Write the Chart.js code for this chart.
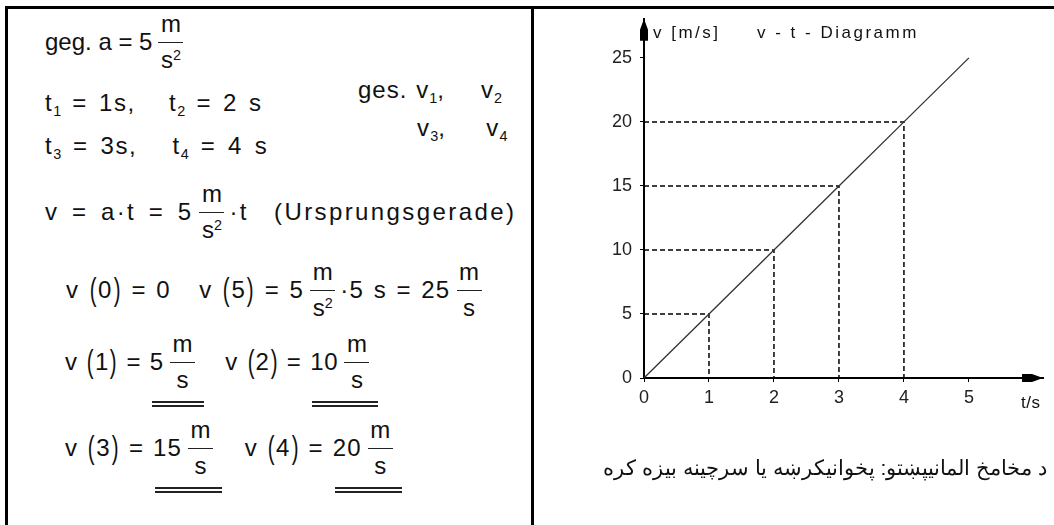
<!DOCTYPE html>
<html>
<head>
<meta charset="utf-8">
<title>v - t - Diagramm</title>
<script src="https://cdn.jsdelivr.net/npm/chart.js@4.4.1/dist/chart.umd.min.js"></script>
<style>
  html, body { margin: 0; padding: 0; background: #fff; }
  body { width: 1054px; height: 525px; position: relative; overflow: hidden;
         font-family: "Liberation Sans", Arial, sans-serif; color: #111; }
  .frame { position: absolute; left: 5px; top: 6px; right: 0; bottom: -10px;
           border-top: 3px solid #000; border-left: 3px solid #000; }
  .divider { position: absolute; left: 531px; top: 6px; width: 3px; bottom: 0; background: #000; }
  .row { position: absolute; white-space: pre; font-size: 24px; line-height: 26px; }
  .row sub { font-size: 0.6em; vertical-align: -0.35em; line-height: 0; letter-spacing: 0; }
  .p { display: inline-block; transform: scale(0.85, 1.3); }
  .fr { display: inline-block; position: relative; width: 25px; height: 0; margin: 0 5px 0 6px; }
  .fr::before { content: ''; position: absolute; left: 0; right: 0; bottom: 7px; border-top: 1px solid #222; }
  .fr .n, .fr .d { position: absolute; left: -6px; right: -6px; text-align: center; line-height: 22px;
                   letter-spacing: 0; word-spacing: 0; }
  .fr .n { bottom: 15px; }
  .fr .d { top: -1px; }
  .fr .d sup { font-size: 0.6em; vertical-align: 0.55em; line-height: 0; }
  .uu { display: inline-block; position: relative; }
  .uu::after { content: ''; position: absolute; left: 2px; right: -4px; top: 52px; height: 2px;
               border-top: 2px solid #222; border-bottom: 2px solid #222; }
  .lbl { position: absolute; white-space: pre; font-size: 17px; line-height: 20px; letter-spacing: 2.5px; }
  .caption { position: absolute; right: 7px; top: 456px; direction: rtl; font-size: 21px; line-height: 24px; }
  #wrap { position: absolute; left: 0; top: 0; width: 1054px; height: 525px; }
</style>
</head>
<body>
<div class="frame"></div>
<div class="divider"></div>

<div class="row" style="left:45px; top:29px">geg. a = 5<span class="fr"><span class="n">m</span><span class="d">s<sup>2</sup></span></span></div>
<div class="row" style="left:358px; top:77px; letter-spacing:1px; word-spacing:1.3px">ges. v<sub>1</sub>,    v<sub>2</sub></div>
<div class="row" style="left:45px; top:90px; letter-spacing:1.5px; word-spacing:3px">t<sub>1</sub> = 1s,   t<sub>2</sub> = 2 s</div>
<div class="row" style="left:417px; top:115px; letter-spacing:1.2px; word-spacing:2.2px">v<sub>3</sub>,    v<sub>4</sub></div>
<div class="row" style="left:45px; top:133px; letter-spacing:1.6px; word-spacing:3.5px">t<sub>3</sub> = 3s,   t<sub>4</sub> = 4 s</div>
<div class="row" style="left:45px; top:199px; letter-spacing:2.4px; word-spacing:3.5px">v = a·t = 5<span class="fr"><span class="n">m</span><span class="d">s<sup>2</sup></span></span>·t  (Ursprungsgerade)</div>
<div class="row" style="left:66px; top:277px; letter-spacing:1.3px; word-spacing:1.5px">v <span class="p">(</span>0<span class="p">)</span> = 0   v <span class="p">(</span>5<span class="p">)</span> = 5<span class="fr"><span class="n">m</span><span class="d">s<sup>2</sup></span></span>·5 s = 25<span class="fr"><span class="n">m</span><span class="d">s</span></span></div>
<div class="row" style="left:65px; top:349px; letter-spacing:0.8px; word-spacing:1px">v <span class="p">(</span>1<span class="p">)</span> = <span class="uu">5<span class="fr"><span class="n">m</span><span class="d">s</span></span></span>   v <span class="p">(</span>2<span class="p">)</span> = <span class="uu">10<span class="fr"><span class="n">m</span><span class="d">s</span></span></span></div>
<div class="row" style="left:65px; top:435px; letter-spacing:1.2px; word-spacing:1px">v <span class="p">(</span>3<span class="p">)</span> = <span class="uu">15<span class="fr"><span class="n">m</span><span class="d">s</span></span></span>   v <span class="p">(</span>4<span class="p">)</span> = <span class="uu">20<span class="fr"><span class="n">m</span><span class="d">s</span></span></span></div>

<div id="wrap"><canvas id="chart"></canvas></div>

<div class="lbl" style="left:653px; top:23px">v [m/s]</div>
<div class="lbl" style="left:757px; top:23px">v - t - Diagramm</div>
<div class="lbl" style="left:1021px; top:393px; letter-spacing:0.5px">t/s</div>
<div class="caption">د مخامخ المانيپښتو: پخوانیکرښه یا سرچینه بیزه کره</div>

<script>
// v-t diagram data: v = a * t with a = 5 m/s^2
const tValues = [0, 1, 2, 3, 4, 5]
const vValues = [0, 5, 10, 15, 20, 25]
// dashed read-off lines
const guideT = [1, 2, 3, 4]
const guideV = [5, 10, 15, 20]
// axis ticks
const xTicks = [0, 1, 2, 3, 4, 5]
const yTicks = [0, 5, 10, 15, 20, 25]

const mainLine = tValues.map((t, i) => ({ x: t, y: vValues[i] }))

const guideSets = guideT.map((t, i) => ({
    data: [{ x: 0, y: guideV[i] }, { x: t, y: guideV[i] }, { x: t, y: 0 }],
    borderColor: '#000',
    borderWidth: 1.5,
    borderDash: [5, 3],
    pointRadius: 0,
    tension: 0,
}))

const axisArrows = {
    id: 'axisArrows',
    afterDraw(chart) {
        const { ctx, chartArea: a } = chart
        ctx.save()
        ctx.fillStyle = '#000'
        // arrow at the end of the t axis
        ctx.beginPath()
        ctx.moveTo(a.right - 21, a.bottom - 4)
        ctx.lineTo(a.right - 11, a.bottom - 4)
        ctx.lineTo(a.right, a.bottom)
        ctx.lineTo(a.right - 11, a.bottom + 4)
        ctx.lineTo(a.right - 21, a.bottom + 4)
        ctx.closePath()
        ctx.fill()
        // arrow at the top of the v axis
        ctx.beginPath()
        ctx.moveTo(a.left, a.top)
        ctx.lineTo(a.left + 4, a.top + 11)
        ctx.lineTo(a.left + 4, a.top + 22)
        ctx.lineTo(a.left - 4, a.top + 22)
        ctx.lineTo(a.left - 4, a.top + 11)
        ctx.closePath()
        ctx.fill()
        ctx.restore()
    }
}

const tickFont = { family: '"Liberation Sans", Arial, sans-serif', size: 18 }

new Chart(document.getElementById('chart'), {
    type: 'line',
    data: {
        datasets: [
            {
                data: mainLine,
                borderColor: '#333',
                borderWidth: 1.3,
                pointRadius: 0,
                tension: 0,
            },
            ...guideSets,
        ]
    },
    options: {
        responsive: true,
        maintainAspectRatio: false,
        animation: false,
        events: [],
        layout: {
            autoPadding: false,
            padding: { left: 604, top: 10, right: 11, bottom: 117 },
        },
        plugins: {
            legend: { display: false },
            tooltip: { enabled: false },
        },
        scales: {
            x: {
                type: 'linear',
                min: 0,
                max: 6.14,
                afterBuildTicks: (scale) => { scale.ticks = xTicks.map(v => ({ value: v })) },
                afterFit: (scale) => { scale.height = 30 },
                grid: { drawOnChartArea: false, drawTicks: true, tickLength: 4, color: '#000', lineWidth: 1 },
                border: { display: true, color: '#000', width: 2 },
                ticks: { color: '#222', font: tickFont, padding: 5, maxRotation: 0, callback: (v) => String(v) },
            },
            y: {
                type: 'linear',
                min: 0,
                max: 28.05,
                afterBuildTicks: (scale) => { scale.ticks = yTicks.map(v => ({ value: v })) },
                afterFit: (scale) => { scale.width = 40 },
                grid: { drawOnChartArea: false, drawTicks: true, tickLength: 4, color: '#000', lineWidth: 1 },
                border: { display: true, color: '#000', width: 2 },
                ticks: { color: '#222', font: tickFont, padding: 8, callback: (v) => String(v) },
            },
        },
    },
    plugins: [axisArrows],
})
</script>
</body>
</html>
